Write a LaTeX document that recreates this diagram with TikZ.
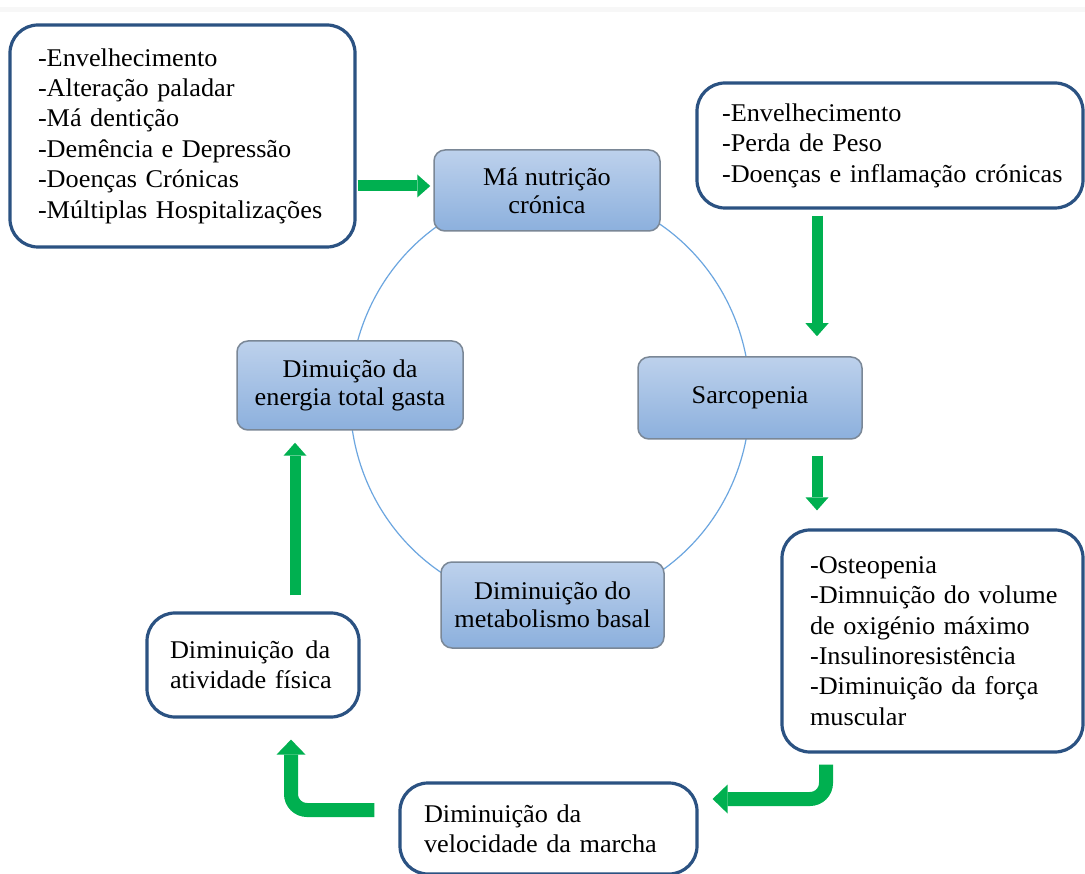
\documentclass[tikz,border=0pt]{standalone}
\usepackage{fontspec}
\setmainfont{Liberation Serif}[FakeStretch=1.03]
\usetikzlibrary{arrows.meta}
\definecolor{gArrow}{HTML}{00B050}
\definecolor{boxBlue}{HTML}{2B5282}
\definecolor{boxGray}{HTML}{7A8796}
\definecolor{bTop}{HTML}{BDD1EC}
\definecolor{bBot}{HTML}{8CB0DD}
\definecolor{ringBlue}{HTML}{6CA6E0}
\begin{document}
\begin{tikzpicture}[x=1pt,y=-1pt,
  whitebox/.style={draw=boxBlue, line width=3.2pt, rounded corners=28pt, fill=white,
    align=left, inner xsep=0pt, inner ysep=0pt, font=\fontsize{25.5}{30.4}\selectfont},
  bluebox/.style={draw=boxGray, line width=1.5pt, rounded corners=11pt, top color=bTop,
    bottom color=bBot, align=center, inner sep=0pt, font=\fontsize{25.5}{28}\selectfont},
  garrow/.style={draw=gArrow, line width=11pt, -{Triangle[width=23pt,length=13pt,line width=0pt]}},
  gbent/.style={draw=gArrow, line width=14pt, rounded corners=16pt, -{Triangle[width=29pt,length=15pt,line width=0pt]}}]
\useasboundingbox (0,0) rectangle (1085,874);
\fill[white] (0,0) rectangle (1085,874);
\fill[black!3] (0,7) rectangle (1085,12);
% ring
\draw[ringBlue, line width=1.2pt] (550,398) ellipse [x radius=200, y radius=208];
% white boxes
\node[whitebox, minimum width=345pt, minimum height=222pt, text width=289pt] (L1) at (182.5,136)
  {\mbox{-Envelhecimento}\\\mbox{-Alteração paladar}\\\mbox{-Má dentição}\\\mbox{-Demência e Depressão}\\\mbox{-Doenças Crónicas}\\\mbox{-Múltiplas Hospitalizações}};
\node[whitebox, minimum width=386pt, minimum height=125pt, text width=336pt] (TR) at (890,145.5)
  {\mbox{-Envelhecimento}\\\mbox{-Perda de Peso}\\\mbox{-Doenças e inflamação crónicas}};
\node[whitebox, minimum width=301pt, minimum height=222pt, text width=245pt] (RB) at (932.5,641)
  {\mbox{-Osteopenia}\\\mbox{-Dimnuição do volume}\\\mbox{de oxigénio máximo}\\\mbox{-Insulinoresistência}\\\mbox{-Diminuição da força}\\\mbox{muscular}};
\node[whitebox, minimum width=212pt, minimum height=104pt, text width=166pt] (AF) at (253,665)
  {\mbox{Diminuição\hspace{0.45em}da}\\\mbox{atividade física}};
\node[whitebox, minimum width=297pt, minimum height=91pt, text width=249pt] (VM) at (548.5,828.5)
  {\mbox{Diminuição da}\\\mbox{velocidade da marcha}};
% blue boxes
\node[bluebox, minimum width=226pt, minimum height=81pt] (MN) at (547,190.5) {Má nutrição\\crónica};
\node[bluebox, minimum width=224pt, minimum height=82pt] (SA) at (750,398) {\raisebox{-3pt}{Sarcopenia}};
\node[bluebox, minimum width=226pt, minimum height=89pt] (EN) at (350,385.5) {Dimuição da\\energia total gasta};
\node[bluebox, minimum width=223pt, minimum height=86pt] (MB) at (552.5,605) {Diminuição do\\metabolismo basal};
% green arrows
\draw[garrow] ([shift={(1,50)}]L1.east) -- ([shift={(-3,-4.5)}]MN.west);
\draw[garrow] ([shift={(-73,6)}]TR.south) -- ([shift={(67,-20)}]SA.north);
\draw[garrow] ([shift={(67,16)}]SA.south) -- ([shift={(-115.5,-18)}]RB.north);
\draw[gbent] ([shift={(-106.5,11)}]RB.south) |- ([shift={(14,-29.5)}]VM.east);
\draw[gbent] ([shift={(-24,-18.5)}]VM.west) -| ([shift={(38,21)}]AF.south);
\draw[garrow] ([shift={(42,-16)}]AF.north) -- ([shift={(-55,12)}]EN.south);
\end{tikzpicture}
\end{document}
